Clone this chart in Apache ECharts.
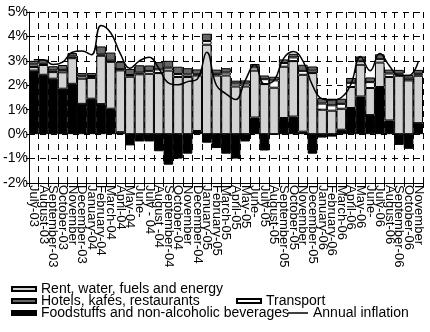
<!DOCTYPE html>
<html>
<head>
<meta charset="utf-8">
<script src="https://cdn.jsdelivr.net/npm/echarts@6/dist/echarts.min.js"></script>
<style>html,body{margin:0;padding:0;background:#fff;}#c{width:430px;height:332px;}</style>
</head>
<body>
<div id="c"></div>
<script>
const categories = ['July-03','August-03','September-03','October-03','November','December-03','January-04','February-04','March-04','April-04','May-04','June-','July - 04','August -04','September-04','October-04','November','December-04','January-05','February-05','March-05','April-05','May-05','June-','July-05','August-05','September-05','October-05','November','December-05','January-06','February-06','March-06','April-06','May-06','June-','July-06','August-06','September-06','October-06','November'];

const food = [2.6, 2.43, 2.27, 1.86, 2.06, 1.24, 1.45, 1.23, 1.04, 0.08, -0.46, -0.3, -0.3, -0.7, -1.25, -1.0, -0.8, 0.13, -0.35, -0.57, -0.8, -1.0, -0.3, 0.68, -0.67, 0, 0.66, 0.72, 0.1, -0.8, -0.14, -0.1, 0.18, 1.07, 1.54, 0.78, 1.93, 0.56, -0.44, -0.6, 0.45];
const rent = [0.15, 0.4, 0.27, 0.67, 1.05, 1.03, 0.85, 1.98, 1.92, 2.53, 2.35, 2.45, 2.47, 2.5, 2.6, 2.34, 2.34, 2.27, 3.66, 2.4, 2.4, 1.95, 1.95, 1.92, 2.05, 1.9, 2.1, 2.27, 2.33, 2.5, 1.0, 0.96, 0.86, 0.86, 1.3, 1.11, 1.0, 1.78, 2.39, 2.2, 1.94];
const transport = [0.1, 0.05, 0.07, 0.1, 0.07, 0.1, 0.08, 0.05, 0.05, 0.05, 0.07, 0.07, 0.12, 0.15, 0.12, 0.12, 0.1, 0.05, 0.15, 0.07, 0.12, 0.12, 0.12, 0.13, 0.2, 0.3, 0.15, 0.15, 0.16, 0.1, 0.25, 0.22, 0.2, 0.17, 0.14, 0.24, 0.14, 0.14, 0.08, 0.07, 0.08];
const hotels = [0.15, 0.17, 0.17, 0.2, 0.14, 0.13, 0.12, 0.33, 0.33, 0.3, 0.25, 0.3, 0.22, 0.3, 0.28, 0.3, 0.26, 0.2, 0.3, 0.17, 0.18, 0.12, 0.13, 0.14, 0.15, 0.15, 0.15, 0.15, 0.25, 0.17, 0.23, 0.27, 0.21, 0.2, 0.2, 0.19, 0.2, 0.16, 0.16, 0.16, 0.16];
const inflation = [3.05, 3.05, 2.85, 2.95, 3.35, 3.4, 3.25, 4.45, 4.15, 3.3, 2.7, 3.0, 3.15, 2.7, 2.1, 2.02, 2.15, 2.25, 3.35, 2.0, 1.65, 1.42, 2.2, 2.85, 2.05, 2.2, 3.1, 3.38, 3.0, 2.0, 1.45, 1.4, 1.5, 2.05, 3.18, 2.6, 3.3, 2.8, 2.4, 2.4, 2.95];

const yMin = -2, yMax = 5, yStep = 1;
const names = {
  rent: 'Rent, water, fuels and energy',
  hotels: 'Hotels, kafés, restaurants',
  transport: 'Transport',
  food: 'Foodstuffs and non-alcoholic beverages',
  infl: 'Annual inflation'
};

const FONT = 'Liberation Sans';
const chart = echarts.init(document.getElementById('c'), null, {renderer: 'canvas'});
const legendBase = {
  orient: 'horizontal', padding: 0, itemGap: 0, itemWidth: 24, itemHeight: 4,
  icon: 'rect',
  textStyle: {fontFamily: FONT, fontSize: 14, color: '#000'},
  selectedMode: false
};
function bar(name, data, color) {
  return {
    name: name, type: 'bar', stack: 'all', data: data,
    barCategoryGap: '0%',
    itemStyle: {color: color, borderColor: '#000', borderWidth: 1},
    emphasis: {disabled: true}
  };
}
chart.setOption({
  animation: false,
  backgroundColor: '#fff',
  grid: {left: 29, right: 7, top: 12, bottom: 149, containLabel: false},
  legend: [
    Object.assign({}, legendBase, {data: [names.rent], left: 11, top: 282}),
    Object.assign({}, legendBase, {data: [names.hotels], left: 11, top: 294}),
    Object.assign({}, legendBase, {data: [names.transport], left: 236, top: 294}),
    Object.assign({}, legendBase, {data: [names.food], left: 11, top: 306}),
    Object.assign({}, legendBase, {
      data: [{name: names.infl, icon: 'rect', itemStyle: {color: '#000', borderWidth: 0}}],
      left: 288, top: 306, itemWidth: 20, itemHeight: 1.5
    })
  ],
  xAxis: {
    type: 'category', data: categories,
    boundaryGap: true,
    axisLine: {show: true, onZero: false, lineStyle: {color: '#000', width: 1}},
    axisTick: {show: true, length: 4, interval: 0, lineStyle: {color: '#000'}},
    axisLabel: {interval: 0, rotate: -90, margin: 2, fontFamily: FONT, fontSize: 13, color: '#000'},
    splitLine: {show: true, interval: 0, lineStyle: {color: '#000', type: [6, 5], width: 1}}
  },
  yAxis: {
    type: 'value', min: yMin, max: yMax, interval: yStep,
    axisLine: {show: true, lineStyle: {color: '#000', width: 1}},
    axisTick: {show: true, length: 3, lineStyle: {color: '#000'}},
    axisLabel: {formatter: '{value}%', margin: 1, fontFamily: FONT, fontSize: 14, color: '#000'},
    splitLine: {show: true, lineStyle: {color: '#000', type: [6, 5], width: 1}}
  },
  series: [
    bar(names.food, food, '#000000'),
    bar(names.rent, rent, '#d2d2d2'),
    bar(names.transport, transport, '#ffffff'),
    bar(names.hotels, hotels, '#666666'),
    {
      name: names.infl, type: 'line', data: inflation, smooth: 0.45,
      symbol: 'none', showSymbol: false, z: 5,
      lineStyle: {color: '#000', width: 1.5},
      itemStyle: {color: '#000'},
      emphasis: {disabled: true}
    }
  ]
});
</script>
</body>
</html>
